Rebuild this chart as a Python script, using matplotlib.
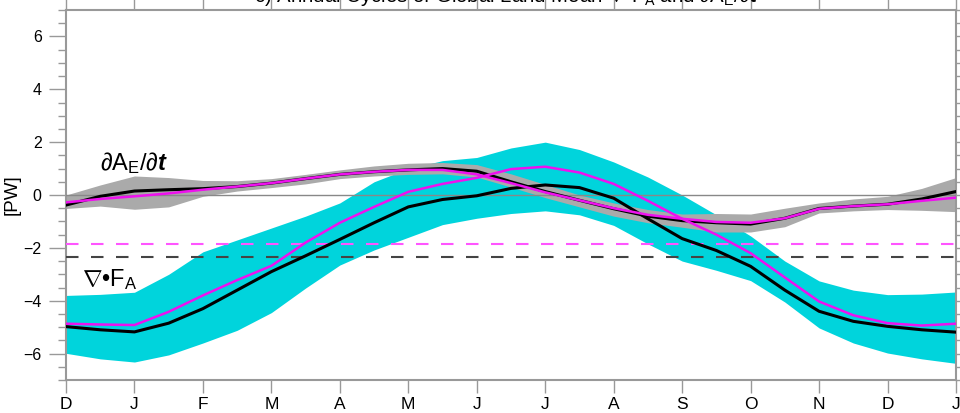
import numpy as np
import matplotlib
matplotlib.use("Agg")
import matplotlib.pyplot as plt
from matplotlib.ticker import MultipleLocator

plt.rcParams['font.family'] = ['Liberation Sans', 'DejaVu Sans']
plt.rcParams['mathtext.fontset'] = 'custom'
plt.rcParams['mathtext.rm'] = 'Liberation Sans'
plt.rcParams['mathtext.it'] = 'Liberation Sans:italic'
plt.rcParams['mathtext.bf'] = 'Liberation Sans:bold'
plt.rcParams['mathtext.bfit'] = 'Liberation Sans:italic:bold'

# ---- data (months from mid-December) ----
months = np.arange(0, 13.01, 0.5)
month_labels = ['D', 'J', 'F', 'M', 'A', 'M', 'J', 'J', 'A', 'S', 'O', 'N', 'D', 'J']

# divergence of atmospheric energy transport (nabla . F_A)
divF_black = [-4.98, -5.10, -5.18, -4.85, -4.30, -3.60, -2.90, -2.30, -1.68, -1.05, -0.45, -0.17, -0.03,
              0.25, 0.38, 0.28, -0.12, -0.90, -1.65, -2.10, -2.70, -3.60, -4.40, -4.78, -4.97, -5.10, -5.19]
divF_magenta = [-4.87, -4.90, -4.92, -4.42, -3.80, -3.22, -2.68, -1.80, -1.05, -0.45, 0.12, 0.42, 0.65,
                0.98, 1.07, 0.85, 0.42, -0.22, -0.90, -1.50, -2.20, -3.12, -4.03, -4.55, -4.85, -4.94, -4.87]
divF_upper = [-3.80, -3.76, -3.68, -3.00, -2.15, -1.70, -1.25, -0.80, -0.30, 0.50, 1.00, 1.30, 1.42,
              1.78, 2.00, 1.72, 1.25, 0.68, 0.00, -0.75, -1.55, -2.50, -3.25, -3.60, -3.77, -3.75, -3.67]
divF_lower = [-5.99, -6.20, -6.32, -6.05, -5.60, -5.12, -4.45, -3.52, -2.65, -2.08, -1.60, -1.12, -0.88,
              -0.70, -0.60, -0.75, -1.15, -1.85, -2.50, -2.85, -3.24, -4.05, -5.03, -5.60, -5.98, -6.20, -6.37]

# tendency of atmospheric energy (dA_E/dt)
dAdt_black = [-0.38, -0.05, 0.15, 0.20, 0.24, 0.32, 0.45, 0.62, 0.78, 0.88, 0.95, 1.00, 0.90,
              0.50, 0.13, -0.20, -0.52, -0.80, -0.97, -1.05, -1.10, -0.88, -0.51, -0.42, -0.35, -0.15, 0.13]
dAdt_magenta = [-0.28, -0.15, -0.05, 0.06, 0.20, 0.32, 0.45, 0.62, 0.78, 0.88, 0.95, 0.95, 0.78,
                0.45, 0.10, -0.20, -0.50, -0.75, -0.90, -1.02, -1.05, -0.88, -0.52, -0.42, -0.35, -0.22, -0.10]
dAdt_upper = [0.00, 0.38, 0.72, 0.66, 0.55, 0.54, 0.62, 0.78, 0.95, 1.10, 1.20, 1.23, 1.15,
              0.80, 0.40, 0.00, -0.30, -0.55, -0.72, -0.70, -0.72, -0.50, -0.30, -0.15, -0.05, 0.25, 0.66]
dAdt_lower = [-0.51, -0.42, -0.54, -0.45, -0.05, 0.15, 0.28, 0.42, 0.62, 0.72, 0.78, 0.80, 0.68,
              0.30, -0.10, -0.45, -0.80, -1.05, -1.22, -1.40, -1.40, -1.20, -0.68, -0.60, -0.55, -0.58, -0.63]

mean_black = -2.34
mean_magenta = -1.87

# ---- figure ----
W, H = 960, 413
fig = plt.figure(figsize=(W / 100, H / 100), dpi=100)
ax = fig.add_axes([66 / W, 1 - 380 / H, (956 - 66) / W, (380 - 10) / H])

cyan = '#00d4dc'
gray = '#aaaaaa'
mag = '#ee11ee'

ax.fill_between(months, divF_lower, divF_upper, color=cyan, lw=0, zorder=1)
ax.fill_between(months, dAdt_lower, dAdt_upper, color=gray, lw=0, zorder=2)
ax.axhline(0, color='#888888', lw=1.0, zorder=3)
ax.axhline(mean_magenta, color='#ff55ff', lw=1.5, ls=(0, (6, 6)), zorder=3)
ax.axhline(mean_black, color='#444444', lw=1.5, ls=(0, (6, 6)), zorder=3)

for arr, c, w, z in [(divF_black, 'black', 2.2, 4), (divF_magenta, mag, 1.8, 5),
                     (dAdt_black, 'black', 2.2, 4), (dAdt_magenta, mag, 1.8, 5)]:
    ax.plot(months, arr, color=c, lw=w, zorder=z, solid_joinstyle='round')

ax.set_xlim(0, 13)
ax.set_ylim(-7, 7)
ax.set_xticks(range(14))
ax.set_xticklabels(month_labels, fontsize=12.5)
ax.set_yticks([-6, -4, -2, 0, 2, 4, 6])
ax.yaxis.set_minor_locator(MultipleLocator(0.5))
ax.tick_params(axis='y', labelsize=11.5)

sc = '#999999'
for s in ax.spines.values():
    s.set_color(sc)
    s.set_linewidth(1.5)
ax.tick_params(axis='x', which='major', direction='out', length=9, width=1, color=sc,
               top=True, bottom=True, pad=3)
ax.tick_params(axis='y', which='major', direction='out', length=12.5, width=1, color=sc,
               left=True, right=True, pad=5)
ax.tick_params(axis='y', which='minor', direction='out', length=6, width=1, color=sc,
               left=True, right=True)
ax.tick_params(axis='x', which='minor', bottom=False, top=False)

ax.set_ylabel('[PW]', fontsize=13.5, labelpad=2)

ax.text(0.5, 1.2, r'$\partial\mathrm{A}_\mathrm{E}/\partial\mathbfit{t}$', fontsize=17,
        ha='left', va='center', zorder=6)
ax.text(0.23, -3.2, r'$\nabla$•F$_\mathrm{A}$', fontsize=17,
        ha='left', va='center', zorder=6)

fig.text(0.527, 1 - 1.5 / H,
         r'c) Annual Cycles of Global Land Mean $\nabla$•F$_\mathrm{A}$ and $\partial\mathrm{A}_\mathrm{E}/\partial\mathbfit{t}$',
         fontsize=14.7, ha='center', va='baseline')

fig.savefig('out.png', dpi=100)
